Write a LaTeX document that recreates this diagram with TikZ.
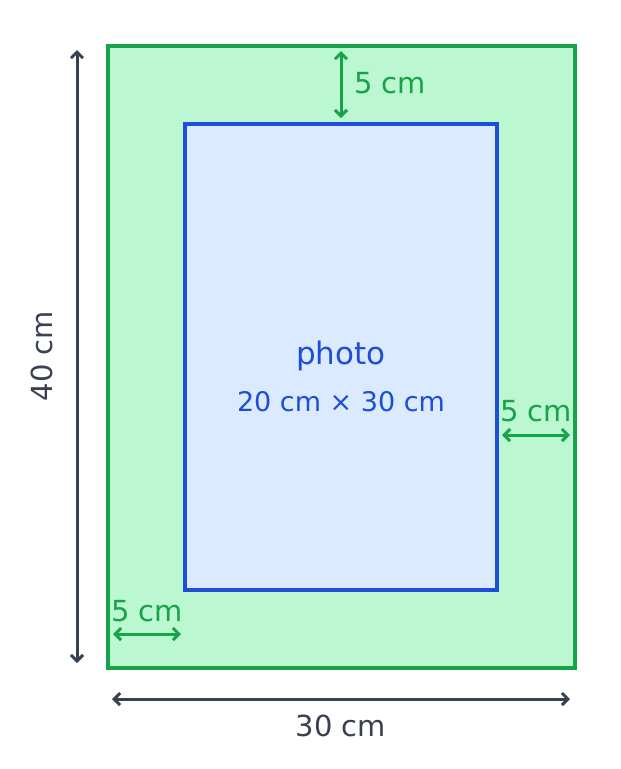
\documentclass[tikz,border=0pt]{standalone}
\usepackage{fontspec}
\setmainfont{DejaVu Sans}
\usetikzlibrary{arrows.meta}
\definecolor{gstroke}{HTML}{16A34A}
\definecolor{gfill}{HTML}{BBF7D0}
\definecolor{bstroke}{HTML}{1D4ED8}
\definecolor{bfill}{HTML}{DBEAFE}
\definecolor{dark}{HTML}{374151}
\tikzset{
  dimarrow/.style={line width=3pt, {Straight Barb[length=6pt,width=12pt,line width=3pt]}-{Straight Barb[length=6pt,width=12pt,line width=3pt]}, line cap=round},
  lbl/.style={font=\fontsize{29}{32}\selectfont, inner sep=0pt},
}
\begin{document}
\begin{tikzpicture}[x=1pt,y=-1pt]
\useasboundingbox (0,0) rectangle (621,769);
\node[draw=gstroke, fill=gfill, line width=4pt, minimum width=467pt, minimum height=622pt, inner sep=0pt] (mat) at (341.5,357) {};
\node[draw=bstroke, fill=bfill, line width=3.5pt, minimum width=312pt, minimum height=466pt, inner sep=0pt] (photo) at (341,357) {};
\node[lbl, text=bstroke, font=\fontsize{31}{34}\selectfont] (ptitle) at (341,356) {photo};
\node[lbl, text=bstroke, font=\fontsize{27}{30}\selectfont] (psize) at (341,402) {20 cm × 30 cm};
% left dimension
\coordinate (l1) at (77,50);
\coordinate (l2) at (77,663);
\draw[dimarrow, draw=dark] (l1) -- (l2);
\node[lbl, text=dark, rotate=90] (h) at (42,356) {40 cm};
% bottom dimension
\coordinate (b1) at (112,699);
\coordinate (b2) at (570,699);
\draw[dimarrow, draw=dark] (b1) -- (b2);
\node[lbl, text=dark] (w) at (341,726) {30 cm};
% top margin
\coordinate (t1) at (341,51);
\coordinate (t2) at (341,118);
\draw[dimarrow, draw=gstroke] (t1) -- (t2);
\node[lbl, text=gstroke] (tm) at (390,83) {5 cm};
% right margin
\coordinate (r1) at (502,435);
\coordinate (r2) at (570,435);
\draw[dimarrow, draw=gstroke] (r1) -- (r2);
\node[lbl, text=gstroke] (rm) at (536,411) {5 cm};
% bottom-left margin
\coordinate (s1) at (113,634);
\coordinate (s2) at (181,634);
\draw[dimarrow, draw=gstroke] (s1) -- (s2);
\node[lbl, text=gstroke] (sm) at (147,611) {5 cm};
\end{tikzpicture}
\end{document}
